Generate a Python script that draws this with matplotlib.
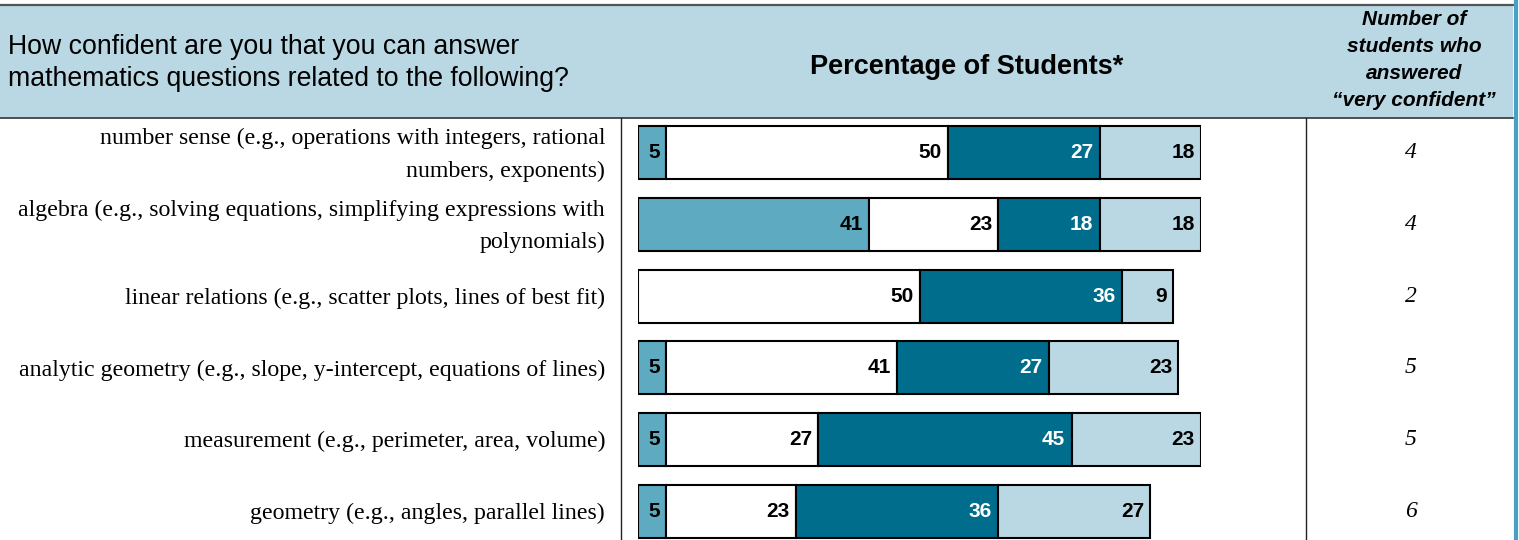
import matplotlib
matplotlib.use("Agg")
import matplotlib.pyplot as plt
from matplotlib.patches import Rectangle

# data
categories = [
    "number sense (e.g., operations with integers, rational\nnumbers, exponents)",
    "algebra (e.g., solving equations, simplifying expressions with\npolynomials)",
    "linear relations (e.g., scatter plots, lines of best fit)",
    "analytic geometry (e.g., slope, y-intercept, equations of lines)",
    "measurement (e.g., perimeter, area, volume)",
    "geometry (e.g., angles, parallel lines)",
]
not_confident = [5, 41, 0, 5, 5, 5]
somewhat = [50, 23, 50, 41, 27, 23]
confident = [27, 18, 36, 27, 45, 36]
very_confident = [18, 18, 9, 23, 23, 27]
very_confident_count = [4, 4, 2, 5, 5, 6]

series = [not_confident, somewhat, confident, very_confident]
colors = ["#5eaac1", "#ffffff", "#006d8c", "#b9d8e3"]
text_colors = ["black", "black", "white", "black"]

W, H = 1519, 540
fig = plt.figure(figsize=(W / 100, H / 100), dpi=100)

# background axes in pixel coordinates for the table frame
bg = fig.add_axes([0, 0, 1, 1])
bg.set_xlim(0, W)
bg.set_ylim(H, 0)
bg.axis("off")

bg.add_patch(Rectangle((0, 5), 1513, 113, facecolor="#b9d8e3", edgecolor="none"))
bg.plot([0, 1513], [4.5, 4.5], color="#555555", lw=1.6)
bg.plot([0, 1513], [118, 118], color="#333333", lw=1.2)
bg.plot([621, 621], [118, H], color="#222222", lw=1.0)
bg.plot([1306, 1306], [118, H], color="#222222", lw=1.0)
bg.plot([1516, 1516], [0, H], color="#4aa0c4", lw=3)

bg.text(8, 63, "How confident are you that you can answer\nmathematics questions related to the following?",
        ha="left", va="center", fontsize=19.2, family="Liberation Sans", linespacing=1.27)
bg.text(967, 67, "Percentage of Students*", ha="center", va="center",
        fontsize=19.5, fontweight="bold", family="Liberation Sans")
bg.text(1414, 60, "Number of\nstudents who\nanswered\n\u201cvery confident\u201d", ha="center", va="center",
        fontsize=15, fontweight="bold", fontstyle="italic", family="Liberation Sans", linespacing=1.55)

# bar axes: 0..100 percent
x0, x100 = 638, 1201
top, bottom = 117, 540
ax = fig.add_axes([x0 / W, 0, (x100 - x0) / W, (bottom - top) / H])
ax.set_xlim(0, 100)
ax.set_ylim(5.4, -0.5)
ax.axis("off")

ypos = list(range(len(categories)))
left = [0] * len(categories)
for vals, col, tcol in zip(series, colors, text_colors):
    ax.barh(ypos, vals, left=left, height=0.74, color=col,
            edgecolor="black", linewidth=1.5)
    for i, v in enumerate(vals):
        if v > 0:
            ax.annotate(str(v), (left[i] + v, i), xytext=(-4.5, 0), textcoords="offset points",
                        ha="right", va="center", fontsize=15, fontweight="bold", color=tcol,
                        family="Liberation Sans")
    left = [l + v for l, v in zip(left, vals)]

# category labels and counts
for i, cat in enumerate(categories):
    ax.annotate(cat, (0, i), xycoords=("axes fraction", "data"), xytext=(605 - x0, -2),
                textcoords="offset pixels", ha="right", va="center", fontsize=17.2,
                family="Liberation Serif", linespacing=1.7, multialignment="right")
    ax.annotate(str(very_confident_count[i]), (0, i), xycoords=("axes fraction", "data"),
                xytext=(1411 - x0, 0), textcoords="offset pixels", ha="center", va="center",
                fontsize=17, fontstyle="italic", family="Liberation Serif")

fig.savefig("out.png", dpi=100)
